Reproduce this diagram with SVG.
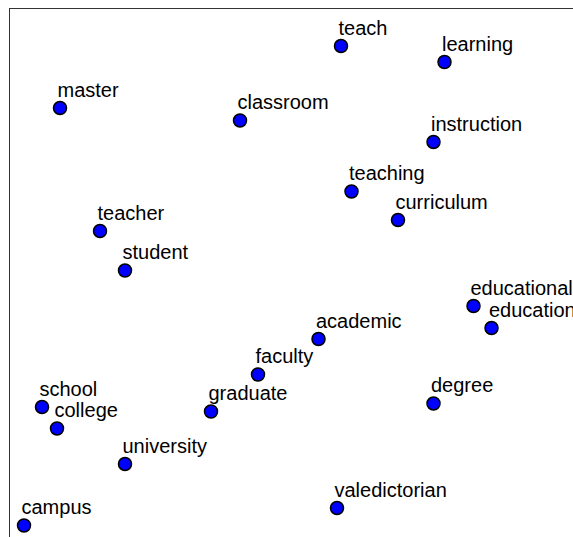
<svg xmlns="http://www.w3.org/2000/svg" width="573" height="537" viewBox="0 0 573 537">
<style>
.n circle{fill:#0000ff;stroke:#000;stroke-width:1.5}
.n text{font-family:"Liberation Sans",Arial,sans-serif;font-size:20px;fill:#000}
</style>
<rect x="0" y="0" width="573" height="537" fill="#fff"/>
<rect x="9.5" y="8.5" width="600" height="600" fill="none" stroke="#333" stroke-width="1"/>
<g id="connectors"></g>
<g id="teach" class="n"><circle cx="341" cy="46" r="6.5"/><text x="338.5" y="34.5">teach</text></g>
<g id="learning" class="n"><circle cx="444.5" cy="62" r="6.5"/><text x="442" y="50.5">learning</text></g>
<g id="master" class="n"><circle cx="60" cy="108" r="6.5"/><text x="57.5" y="96.5">master</text></g>
<g id="classroom" class="n"><circle cx="240" cy="120.5" r="6.5"/><text x="237.5" y="109">classroom</text></g>
<g id="instruction" class="n"><circle cx="433.5" cy="142" r="6.5"/><text x="431" y="130.5">instruction</text></g>
<g id="teaching" class="n"><circle cx="351.5" cy="191.5" r="6.5"/><text x="349" y="180">teaching</text></g>
<g id="curriculum" class="n"><circle cx="398" cy="220" r="6.5"/><text x="395.5" y="208.5">curriculum</text></g>
<g id="teacher" class="n"><circle cx="100" cy="231" r="6.5"/><text x="97.5" y="219.5">teacher</text></g>
<g id="student" class="n"><circle cx="125" cy="270.5" r="6.5"/><text x="122.5" y="259">student</text></g>
<g id="educational" class="n"><circle cx="473.5" cy="306" r="6.5"/><text x="470.5" y="294.5">educational</text></g>
<g id="education" class="n"><circle cx="491.5" cy="328" r="6.5"/><text x="489" y="316.5">education</text></g>
<g id="academic" class="n"><circle cx="318.5" cy="339" r="6.5"/><text x="316" y="327.5">academic</text></g>
<g id="faculty" class="n"><circle cx="258" cy="374.5" r="6.5"/><text x="255.5" y="363">faculty</text></g>
<g id="school" class="n"><circle cx="42" cy="407" r="6.5"/><text x="39.5" y="395.5">school</text></g>
<g id="degree" class="n"><circle cx="433.5" cy="403.5" r="6.5"/><text x="431" y="392">degree</text></g>
<g id="graduate" class="n"><circle cx="211" cy="411.5" r="6.5"/><text x="208.5" y="400">graduate</text></g>
<g id="college" class="n"><circle cx="57" cy="428.5" r="6.5"/><text x="54.5" y="417">college</text></g>
<g id="university" class="n"><circle cx="125" cy="464" r="6.5"/><text x="122.5" y="452.5">university</text></g>
<g id="valedictorian" class="n"><circle cx="337" cy="508" r="6.5"/><text x="334.5" y="496.5">valedictorian</text></g>
<g id="campus" class="n"><circle cx="24" cy="525.5" r="6.5"/><text x="21.5" y="514">campus</text></g>
</svg>
